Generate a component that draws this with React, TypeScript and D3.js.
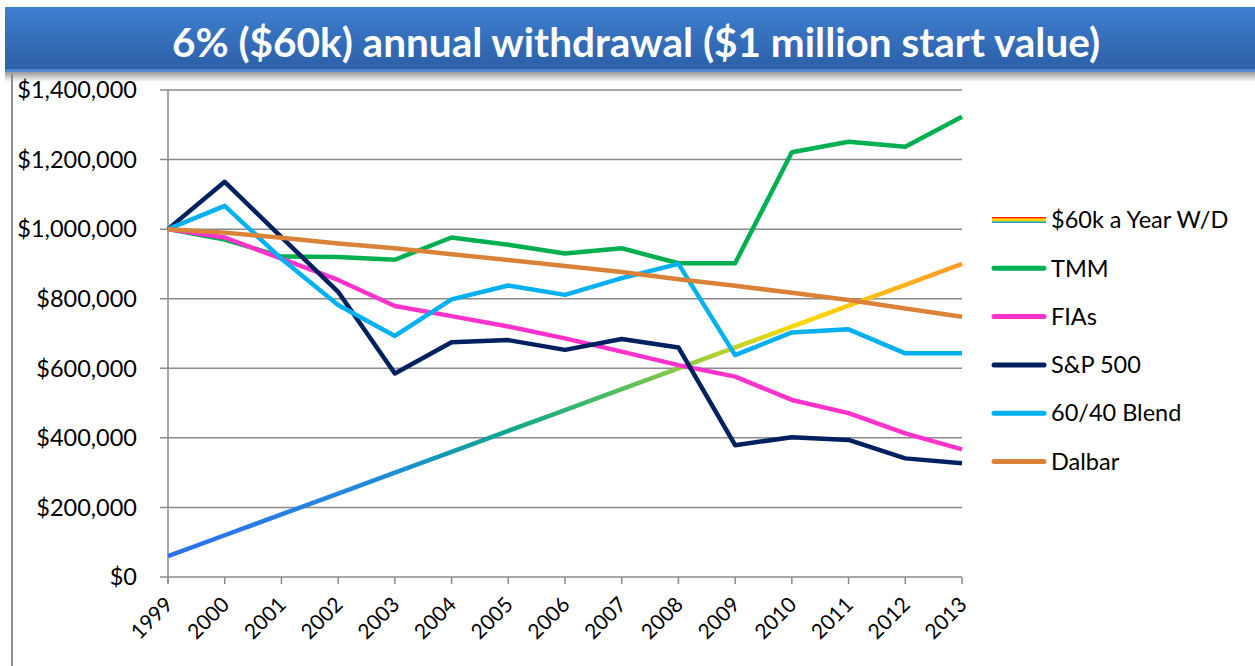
import React from "react";
import * as d3 from "d3";

const years = ["1999","2000","2001","2002","2003","2004","2005","2006","2007","2008","2009","2010","2011","2012","2013"];
const withdrawals = [60000,120000,180000,240000,300000,360000,420000,480000,540000,600000,660000,720000,780000,840000,900000];
const tmm = [1000000,970000,921000,920000,912000,976000,955000,930000,945000,902000,902000,1221000,1251000,1237000,1323000];
const fias = [1000000,976000,915000,854000,779000,750000,720000,686000,648000,609000,576000,509000,471000,413000,367000];
const sp500 = [1000000,1136000,977000,820000,585000,675000,681000,653000,684000,660000,379000,402000,394000,341000,327000];
const blend = [1000000,1067000,915000,782000,693000,798000,838000,811000,859000,900000,638000,703000,712000,643000,643000];
const dalbar = [1000000,990000,975000,959000,945000,928000,911000,894000,877000,856000,837000,817000,796000,772000,748000];
const yTicks = [0,200000,400000,600000,800000,1000000,1200000,1400000];

const series = [
  { name: "$60k a Year W/D", values: withdrawals, color: "url(#wdGrad)", legend: "url(#wdLegend)" },
  { name: "TMM", values: tmm, color: "#00b050" },
  { name: "FIAs", values: fias, color: "#ff33cc" },
  { name: "S&P 500", values: sp500, color: "#002060" },
  { name: "60/40 Blend", values: blend, color: "#00b0f0" },
  { name: "Dalbar", values: dalbar, color: "#da8238" },
];

const FONT = "Lato, 'Open Sans', sans-serif";

export default function App() {
  const W = 1255, H = 666;
  const x = d3.scalePoint<string>().domain(years).range([168, 962]);
  const y = d3.scaleLinear().domain([0, 1400000]).range([577, 90]);
  const line = d3.line<number>().x((_, i) => x(years[i])!).y(d => y(d));
  const fmt = (v: number) => "$" + d3.format(",")(v);

  return (
    <svg width={W} height={H} style={{ position: "absolute", left: 0, top: 0 }}>
      <defs>
        <linearGradient id="titleGrad" x1="0" y1="0" x2="0" y2="1">
          <stop offset="0" stopColor="#3e7fd0" />
          <stop offset="1" stopColor="#2c5ea6" />
        </linearGradient>
        <linearGradient id="shadowGrad" x1="0" y1="0" x2="0" y2="1">
          <stop offset="0" stopColor="#9a9a9a" />
          <stop offset="1" stopColor="#ffffff" />
        </linearGradient>
        <linearGradient id="wdGrad" gradientUnits="userSpaceOnUse" x1={168} y1={0} x2={962} y2={0}>
          <stop offset="0" stopColor="#2f6ff2" />
          <stop offset="0.28" stopColor="#1f8ed6" />
          <stop offset="0.42" stopColor="#09a690" />
          <stop offset="0.56" stopColor="#4dbd62" />
          <stop offset="0.7" stopColor="#b7d22e" />
          <stop offset="0.8" stopColor="#ffd800" />
          <stop offset="1" stopColor="#ff9a2a" />
        </linearGradient>
        <linearGradient id="wdLegend" x1="0" y1="0" x2="0" y2="1">
          <stop offset="0" stopColor="#ff1a00" />
          <stop offset="0.2" stopColor="#ff1a00" />
          <stop offset="0.2" stopColor="#ff9a1a" />
          <stop offset="0.4" stopColor="#ff9a1a" />
          <stop offset="0.4" stopColor="#f5d21a" />
          <stop offset="0.6" stopColor="#f5d21a" />
          <stop offset="0.6" stopColor="#6cc35a" />
          <stop offset="0.8" stopColor="#6cc35a" />
          <stop offset="0.8" stopColor="#2f9bf0" />
          <stop offset="1" stopColor="#2f9bf0" />
        </linearGradient>
      </defs>
      <rect x={0} y={0} width={W} height={H} fill="#ffffff" />
      {/* title bar */}
      <rect x={5} y={72} width={W - 5} height={10} fill="url(#shadowGrad)" />
      <rect x={5} y={7} width={W - 5} height={64} fill="url(#titleGrad)" />
      <rect x={5} y={69} width={W - 5} height={3} fill="#4e86cf" />
      <text x={636} y={57} textAnchor="middle" fill="#ffffff" fontFamily={FONT} fontWeight={700} fontSize={40.5}>
        6% ($60k) annual withdrawal ($1 million start value)
      </text>
      {/* frame */}
      <line x1={12} y1={74} x2={12} y2={H} stroke="#8c8c8c" strokeWidth={2} />
      {/* grid */}
      {yTicks.map(t => (
        <g key={t}>
          <line x1={160} x2={962} y1={y(t)} y2={y(t)} stroke="#8a8a8a" strokeWidth={1.5} />
          <text x={137} y={y(t)} dy="0.35em" textAnchor="end" fontFamily={FONT} fontSize={23.5} fill="#000">{fmt(t)}</text>
        </g>
      ))}
      <line x1={168} x2={168} y1={90} y2={584} stroke="#8a8a8a" strokeWidth={1.5} />
      {years.map(yr => (
        <g key={yr}>
          <line x1={x(yr)} x2={x(yr)} y1={577} y2={584} stroke="#8a8a8a" strokeWidth={1.5} />
          <text transform={`translate(${x(yr)! + 6},${606}) rotate(-45)`} textAnchor="end" fontFamily={FONT} fontSize={21} fill="#000">{yr}</text>
        </g>
      ))}
      {/* lines */}
      {series.map(s => (
        <path key={s.name} d={line(s.values)!} fill="none" stroke={s.color} strokeWidth={4.5} strokeLinejoin="round" strokeLinecap="butt" />
      ))}
      {/* legend */}
      {series.map((s, i) => {
        const ly = 220 + i * 48.3;
        return (
          <g key={s.name}>
            {i === 0 ? (
              <rect x={992} y={ly - 3} width={54} height={6} fill={s.legend} />
            ) : (
              <line x1={994} x2={1044} y1={ly} y2={ly} stroke={s.color} strokeWidth={5} strokeLinecap="round" />
            )}
            <text x={1051} y={ly} dy="0.35em" fontFamily={FONT} fontSize={23.5} fill="#000">{s.name}</text>
          </g>
        );
      })}
    </svg>
  );
}
